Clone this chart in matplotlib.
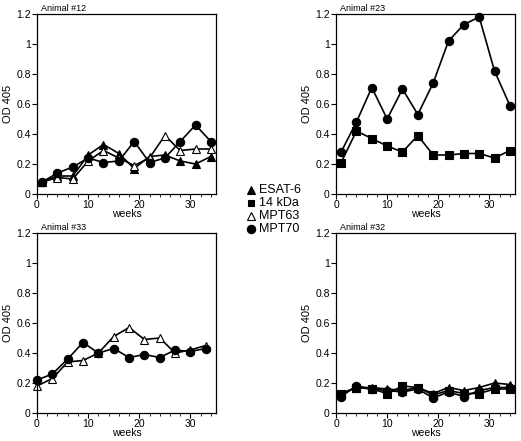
import numpy as np
import matplotlib
matplotlib.use("Agg")
import matplotlib.pyplot as plt
from matplotlib.ticker import MultipleLocator

plt.rcParams['font.family'] = ['Liberation Sans', 'DejaVu Sans']

# weeks sampled
weeks_a = [1, 4, 7, 10, 13, 16, 19, 22, 25, 28, 31, 34]
weeks_b = [0, 3, 6, 9, 12, 15, 18, 21, 24, 27, 30, 33]

# Animal #12
a12_esat6 = [0.08, 0.12, 0.12, 0.26, 0.33, 0.27, 0.17, 0.25, 0.26, 0.22, 0.20, 0.25]
a12_mpt63 = [0.08, 0.11, 0.10, 0.22, 0.29, 0.24, 0.19, 0.24, 0.39, 0.29, 0.30, 0.30]
a12_mpt70 = [0.08, 0.14, 0.18, 0.24, 0.21, 0.22, 0.35, 0.21, 0.24, 0.35, 0.46, 0.35]

# Animal #23
a23_14kda = [0.21, 0.42, 0.37, 0.32, 0.28, 0.39, 0.26, 0.26, 0.27, 0.27, 0.24, 0.29]
a23_mpt70 = [0.28, 0.48, 0.71, 0.50, 0.70, 0.53, 0.74, 1.02, 1.13, 1.18, 0.82, 0.59]

# Animal #33
a33_mpt63 = [0.18, 0.23, 0.34, 0.35, 0.40, 0.51, 0.57, 0.49, 0.50, 0.40, 0.42, 0.45]
a33_mpt70 = [0.22, 0.26, 0.36, 0.47, 0.40, 0.43, 0.37, 0.39, 0.37, 0.42, 0.41, 0.43]

# Animal #32
a32_esat6 = [0.13, 0.17, 0.17, 0.16, 0.15, 0.17, 0.13, 0.17, 0.15, 0.17, 0.20, 0.19]
a32_14kda = [0.13, 0.17, 0.16, 0.13, 0.18, 0.17, 0.12, 0.15, 0.13, 0.13, 0.16, 0.16]
a32_mpt70 = [0.11, 0.18, 0.16, 0.15, 0.14, 0.16, 0.10, 0.14, 0.11, 0.15, 0.17, 0.17]

styles = {
    'ESAT-6': dict(marker='^', mfc='black', mec='black'),
    '14 kDa': dict(marker='s', mfc='black', mec='black'),
    'MPT63': dict(marker='^', mfc='white', mec='black'),
    'MPT70': dict(marker='o', mfc='black', mec='black'),
}

fig = plt.figure(figsize=(5.21, 4.41), dpi=100)

W = 179 / 521
H = 180 / 441
pos = {
    'tl': [37 / 521, 1 - 194 / 441, W, H],
    'tr': [336 / 521, 1 - 194 / 441, W, H],
    'bl': [37 / 521, 1 - 413 / 441, W, H],
    'br': [336 / 521, 1 - 413 / 441, W, H],
}

panels = [
    ('tl', 'Animal #12', weeks_a, [('ESAT-6', a12_esat6), ('MPT63', a12_mpt63), ('MPT70', a12_mpt70)]),
    ('tr', 'Animal #23', weeks_a, [('14 kDa', a23_14kda), ('MPT70', a23_mpt70)]),
    ('bl', 'Animal #33', weeks_b, [('MPT63', a33_mpt63), ('MPT70', a33_mpt70)]),
    ('br', 'Animal #32', weeks_a, [('ESAT-6', a32_esat6), ('14 kDa', a32_14kda), ('MPT70', a32_mpt70)]),
]

for key, title, wk, series in panels:
    ax = fig.add_axes(pos[key])
    for name, vals in series:
        st = styles[name]
        ms = 5.5 if st['marker'] == 's' else 6
        ax.plot(wk, vals, color='black', lw=1.2, marker=st['marker'],
                mfc=st['mfc'], mec=st['mec'], ms=ms, mew=0.8, clip_on=False)
    ax.set_xlim(0, 35)
    ax.set_ylim(0, 1.2)
    ax.set_xticks([0, 10, 20, 30])
    ax.set_yticks([0, 0.2, 0.4, 0.6, 0.8, 1.0, 1.2])
    ax.set_yticklabels(['0', '0.2', '0.4', '0.6', '0.8', '1', '1.2'])
    ax.xaxis.set_minor_locator(MultipleLocator(2))
    ax.tick_params(labelsize=7.5, length=3.5, width=0.8, pad=1)
    ax.tick_params(which='minor', length=2, width=0.6)
    for s in ax.spines.values():
        s.set_linewidth(0.9)
    ax.set_xlabel('weeks', fontsize=7.5, labelpad=-1)
    ax.set_ylabel('OD 405', fontsize=8, labelpad=2)
    ax.text(0.02, 1.005, title, transform=ax.transAxes, fontsize=6.5,
            ha='left', va='bottom')

# legend in the middle
leg_ax = fig.add_axes([0, 0, 1, 1], facecolor='none')
leg_ax.set_xlim(0, 521)
leg_ax.set_ylim(441, 0)
leg_ax.axis('off')
leg_names = ['ESAT-6', '14 kDa', 'MPT63', 'MPT70']
for i, name in enumerate(leg_names):
    y = 190 + i * 13
    st = styles[name]
    ms = 5 if st['marker'] == 's' else 6
    leg_ax.plot([251], [y], ls='none', marker=st['marker'], mfc=st['mfc'],
                mec=st['mec'], ms=ms, mew=0.8)
    leg_ax.text(259, y, name, fontsize=9, ha='left', va='center')

fig.savefig('out.png', dpi=100)
